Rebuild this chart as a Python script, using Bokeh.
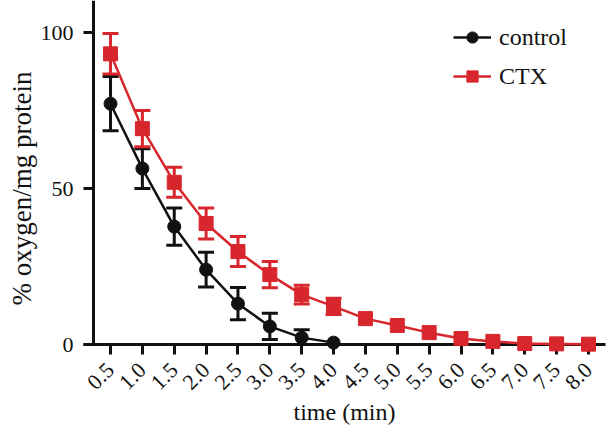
import math
from bokeh.plotting import figure
from bokeh.models import (Range1d, FixedTicker, Span, Whisker, TeeHead, ColumnDataSource,
                          Legend, LegendItem, Title)
from bokeh.embed import file_html
from bokeh.resources import INLINE

# ---- data ----
control_time = [0.5, 1.0, 1.5, 2.0, 2.5, 3.0, 3.5, 4.0]
control_mean = [77.2, 56.4, 37.8, 24.0, 13.1, 5.8, 2.2, 0.6]
control_err = [8.7, 6.4, 6.0, 5.6, 5.2, 4.2, 2.5, 0.0]

ctx_time = [0.5, 1.0, 1.5, 2.0, 2.5, 3.0, 3.5, 4.0, 4.5, 5.0, 5.5, 6.0, 6.5, 7.0, 7.5, 8.0]
ctx_mean = [93.2, 69.2, 52.0, 38.8, 29.8, 22.4, 16.0, 12.2, 8.3, 6.1, 3.8, 1.9, 1.0, 0.3, 0.2, 0.1]
ctx_err = [6.5, 5.8, 4.8, 5.0, 4.8, 4.2, 3.0, 2.6, 0, 0, 0, 0, 0, 0, 0, 0]

x_ticks = [0.5, 1.0, 1.5, 2.0, 2.5, 3.0, 3.5, 4.0, 4.5, 5.0, 5.5, 6.0, 6.5, 7.0, 7.5, 8.0]
x_tick_labels = ["0.5", "1.0", "1.5", "2.0", "2.5", "3.0", "3.5", "4.0",
                 "4.5", "5.0", "5.5", "6.0", "6.5", "7.0", "7.5", "8.0"]
y_ticks = [0, 50, 100]
x_title = "time (min)"
y_title = "% oxygen/mg protein"

BLACK = "#111111"
RED = "#d7262c"
FONT = "Liberation Serif"

p = figure(width=608, height=432, output_backend="svg", toolbar_location=None,
           x_range=Range1d(0.076, 8.267), y_range=Range1d(0, 110.3),
           min_border_left=83, min_border_right=3, min_border_top=0, min_border_bottom=88)
p.outline_line_color = None
p.grid.visible = False
p.background_fill_color = "white"
p.border_fill_color = "white"

# x axis
xa = p.xaxis[0]
xa.ticker = FixedTicker(ticks=x_ticks)
xa.major_label_overrides = {t: l for t, l in zip(x_ticks, x_tick_labels)}
xa.major_label_orientation = math.pi / 4
xa.axis_line_width = 3
xa.axis_line_color = BLACK
xa.major_tick_line_width = 3
xa.major_tick_line_color = BLACK
xa.major_tick_out = 10
xa.major_tick_in = 0
xa.minor_tick_line_color = None
xa.major_label_standoff = 12
xa.major_label_text_font = FONT
xa.major_label_text_font_size = "22px"
xa.major_label_text_color = BLACK
xa.axis_label = x_title
xa.axis_label_text_font = FONT
xa.axis_label_text_font_size = "24px"
xa.axis_label_text_font_style = "normal"
xa.axis_label_text_color = BLACK
xa.axis_label_standoff = 0

# y axis
ya = p.yaxis[0]
ya.ticker = FixedTicker(ticks=y_ticks)
ya.axis_line_color = None
ya.major_tick_line_width = 3
ya.major_tick_line_color = BLACK
ya.major_tick_in = 10
ya.major_tick_out = 0
ya.minor_tick_line_color = None
ya.major_label_standoff = 10
ya.major_label_text_font = FONT
ya.major_label_text_font_size = "22px"
ya.major_label_text_color = BLACK

# y title in the left panel
p.add_layout(Title(text=y_title, align="left", offset=39, text_font=FONT,
                   text_font_size="27px", text_font_style="normal", text_color=BLACK,
                   standoff=2), "left")

# y axis line offset from frame edge
p.add_layout(Span(location=0.233, dimension="height", line_color=BLACK, line_width=3))


def add_series(t, m, e, color, marker, size):
    bt = [a for a, b in zip(t, e) if b > 0]
    bm = [a for a, b in zip(m, e) if b > 0]
    be = [b for b in e if b > 0]
    src = ColumnDataSource(dict(x=bt, up=[a + b for a, b in zip(bm, be)], lo=[a - b for a, b in zip(bm, be)]))
    w = Whisker(source=src, base="x", upper="up", lower="lo", line_color=color, line_width=3,
                upper_head=TeeHead(size=16, line_color=color, line_width=3),
                lower_head=TeeHead(size=16, line_color=color, line_width=3),
                level="overlay")
    p.add_layout(w)
    ln = p.line(t, m, line_color=color, line_width=2.5, level="overlay")
    sc = p.scatter(t, m, marker=marker, size=size, fill_color=color, line_color=color,
                   level="overlay")
    return ln, sc


c_ln, c_sc = add_series(control_time, control_mean, control_err, BLACK, "circle", 13)
r_ln, r_sc = add_series(ctx_time, ctx_mean, ctx_err, RED, "square", 14)

legend = Legend(items=[LegendItem(label="control", renderers=[c_ln, c_sc]),
                       LegendItem(label="CTX", renderers=[r_ln, r_sc])],
                location=(370, 254), glyph_width=38, glyph_height=28, label_height=28,
                spacing=11, padding=0, margin=0, label_standoff=8,
                label_text_font=FONT, label_text_font_size="24px", label_text_color=BLACK,
                border_line_color=None, background_fill_alpha=0)
p.add_layout(legend)

open("out.html", "w").write(file_html(p, INLINE))
